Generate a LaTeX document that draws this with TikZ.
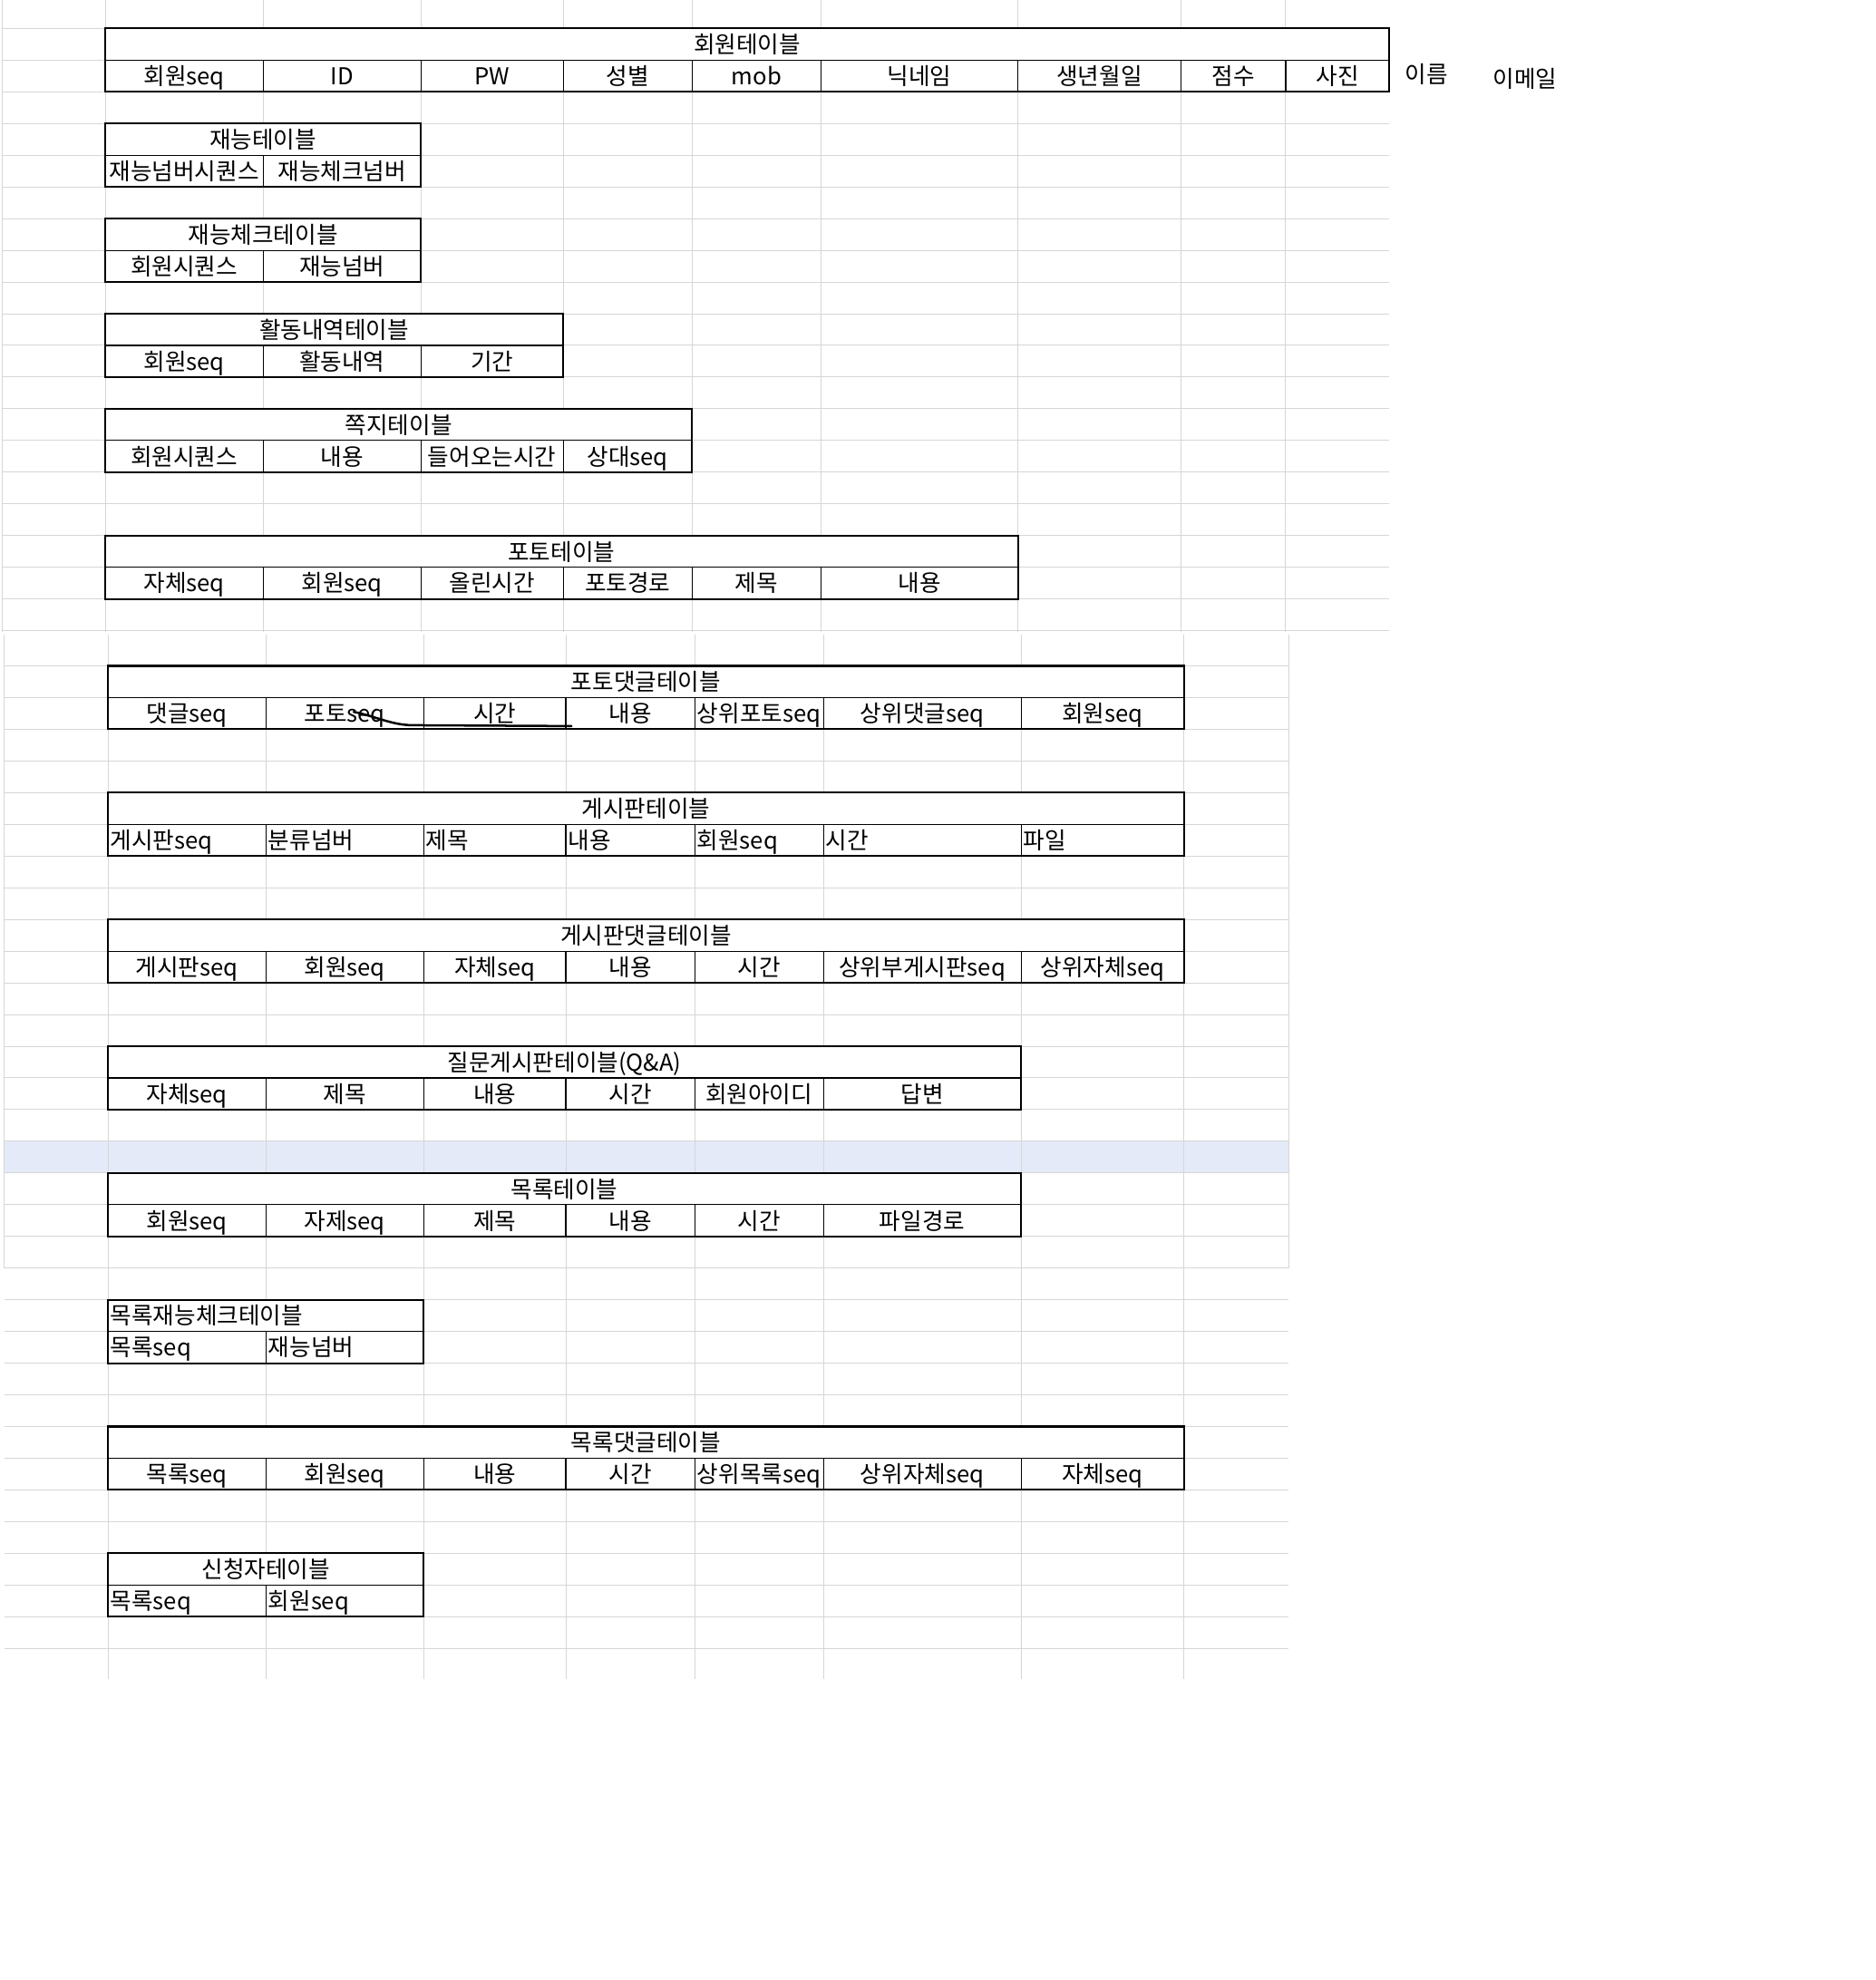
\documentclass[tikz,border=0pt]{standalone}
\usepackage{fontspec}
\newfontfamily\kr{Noto Sans CJK KR}
\definecolor{gridgray}{RGB}{214,214,214}
\definecolor{selblue}{RGB}{228,234,247}
\tikzset{
  gridline/.style={draw=gridgray, line width=0.35pt},
  tblouter/.style={draw=black, line width=0.75pt},
  tblinner/.style={draw=black, line width=0.4pt},
  cell/.style={font=\kr\fontsize{9.2}{11}\selectfont, inner sep=0pt, anchor=base},
  squig/.style={draw=black, line width=0.9pt, line cap=round, line join=round},
}
% #1 name, #2 top, #3 left, #4 right, #5 title, #6 title align c/l, #7 cell align c/l, #8 list a/b/label
\newcommand\dbtab[8]{%
  \pgfmathsetmacro\dbmid{#2+25.1}%
  \pgfmathsetmacro\dbbot{#2+50.2}%
  \fill[white] (#3,#2) rectangle (#4,\dbbot);
  \draw[tblinner] (#3,\dbmid) -- (#4,\dbmid);
  \foreach \a/\b/\lbl [count=\i] in {#8} {
    \ifnum\i>1 \draw[tblinner] (\a,\dbmid) -- (\a,\dbbot);\fi
    \if#7c\node[cell] (#1-\i) at ({(\a+\b)/2},{\dbbot-5.5}) {\lbl};%
    \else\node[cell,anchor=base west] (#1-\i) at ({\a+1.5},{\dbbot-5.5}) {\lbl};\fi
  }
  \draw[tblouter] (#3,#2) rectangle (#4,\dbbot);
  \if#6c\node[cell] (#1-title) at ({(#3+#4)/2},{\dbmid-5.5}) {#5};%
  \else\node[cell,anchor=base west] (#1-title) at ({#3+1.5},{\dbmid-5.5}) {#5};\fi
}
\begin{document}
\begin{tikzpicture}[x=0.5pt,y=-0.5pt]
\useasboundingbox (0,0) rectangle (1485,1568);
\fill[white] (0,0) rectangle (1485,1568);
% ---- top sheet grid
\foreach \x in {1.5,83.3,208.3,333.3,446,548,650,806,935,1018}
  \draw[gridline] (\x,0) -- (\x,500.5);
\foreach \k in {0,...,19}
  \draw[gridline] (1.5,{22.5+25.1*\k}) -- (1100,{22.5+25.1*\k});
% ---- second sheet grid
\fill[selblue] (3.4,903.8) rectangle (1020.5,928.9);
\foreach \x in {3.4,85.5,210.5,335.5,448,550,652,808.5,937.5,1020.5}
  \draw[gridline] (\x,502.7) -- (\x,1004.2);
\foreach \k in {0,...,19}
  \draw[gridline] (3.4,{527.3+25.1*\k}) -- (1020.5,{527.3+25.1*\k});
% ---- third sheet grid
\foreach \x in {85.5,210.5,335.5,448,550,652,808.5,937.5}
  \draw[gridline] (\x,1004.2) -- (\x,1329.6);
\foreach \k in {20,...,31}
  \draw[gridline] (3.6,{527.3+25.1*\k}) -- (1020.5,{527.3+25.1*\k});
% ---- tables (top)
\dbtab{member}{22.5}{83.3}{1100}{회원테이블}{c}{c}{83.3/208.3/회원seq, 208.3/333.3/ID, 333.3/446/PW, 446/548/성별, 548/650/mob, 650/806/닉네임, 806/935/생년월일, 935/1018/점수, 1018/1100/사진}
\dbtab{talent}{97.8}{83.3}{333.3}{재능테이블}{c}{c}{83.3/208.3/재능넘버시퀀스, 208.3/333.3/재능체크넘버}
\dbtab{talentchk}{173.1}{83.3}{333.3}{재능체크테이블}{c}{c}{83.3/208.3/회원시퀀스, 208.3/333.3/재능넘버}
\dbtab{activity}{248.4}{83.3}{446}{활동내역테이블}{c}{c}{83.3/208.3/회원seq, 208.3/333.3/활동내역, 333.3/446/기간}
\dbtab{note}{323.7}{83.3}{548}{쪽지테이블}{c}{c}{83.3/208.3/회원시퀀스, 208.3/333.3/내용, 333.3/446/들어오는시간, 446/548/상대seq}
\dbtab{photo}{424.1}{83.3}{806}{포토테이블}{c}{c}{83.3/208.3/자체seq, 208.3/333.3/회원seq, 333.3/446/올린시간, 446/548/포토경로, 548/650/제목, 650/806/내용}
% ---- tables (bottom)
\dbtab{photocmt}{527.3}{85.5}{937.5}{포토댓글테이블}{c}{c}{85.5/210.5/댓글seq, 210.5/335.5/포토seq, 335.5/448/시간, 448/550/내용, 550/652/상위포토seq, 652/808.5/상위댓글seq, 808.5/937.5/회원seq}
\dbtab{board}{627.7}{85.5}{937.5}{게시판테이블}{c}{l}{85.5/210.5/게시판seq, 210.5/335.5/분류넘버, 335.5/448/제목, 448/550/내용, 550/652/회원seq, 652/808.5/시간, 808.5/937.5/파일}
\dbtab{boardcmt}{728.1}{85.5}{937.5}{게시판댓글테이블}{c}{c}{85.5/210.5/게시판seq, 210.5/335.5/회원seq, 335.5/448/자체seq, 448/550/내용, 550/652/시간, 652/808.5/상위부게시판seq, 808.5/937.5/상위자체seq}
\dbtab{qna}{828.5}{85.5}{808.5}{질문게시판테이블(Q\&A)}{c}{c}{85.5/210.5/자체seq, 210.5/335.5/제목, 335.5/448/내용, 448/550/시간, 550/652/회원아이디, 652/808.5/답변}
\dbtab{list}{928.9}{85.5}{808.5}{목록테이블}{c}{c}{85.5/210.5/회원seq, 210.5/335.5/자제seq, 335.5/448/제목, 448/550/내용, 550/652/시간, 652/808.5/파일경로}
\dbtab{listtal}{1029.3}{85.5}{335.5}{목록재능체크테이블}{l}{l}{85.5/210.5/목록seq, 210.5/335.5/재능넘버}
\dbtab{listcmt}{1129.7}{85.5}{937.5}{목록댓글테이블}{c}{c}{85.5/210.5/목록seq, 210.5/335.5/회원seq, 335.5/448/내용, 448/550/시간, 550/652/상위목록seq, 652/808.5/상위자체seq, 808.5/937.5/자체seq}
\dbtab{applicant}{1230.1}{85.5}{335.5}{신청자테이블}{c}{l}{85.5/210.5/목록seq, 210.5/335.5/회원seq}
% ---- loose labels
\node[cell] (name) at (1129.5,65.5) {이름};
\node[cell] (email) at (1207.6,69.5) {이메일};
% ---- hand-drawn stroke
\coordinate (sqA) at (280,563.7);
\coordinate (sqB) at (326,574.3);
\coordinate (sqC) at (452.5,575);
\draw[squig] (sqA) .. controls (298,567.5) and (310,574) .. (sqB) -- (sqC);
\end{tikzpicture}
\end{document}
